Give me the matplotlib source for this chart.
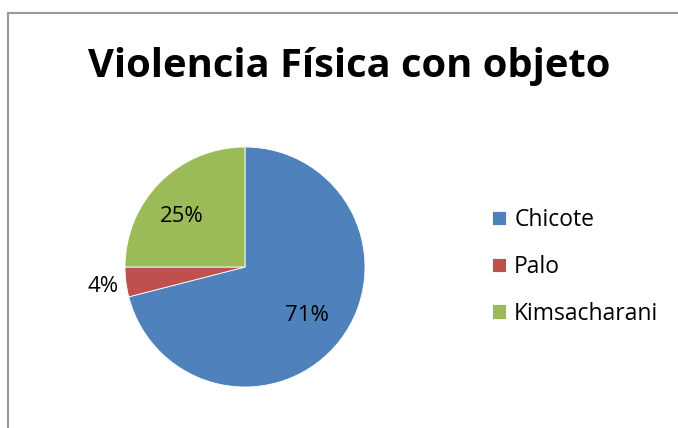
import matplotlib.pyplot as plt
import numpy as np
from matplotlib.lines import Line2D

# data
categories = ["Chicote", "Palo", "Kimsacharani"]
values = [71, 4, 25]
pct_labels = ["71%", "4%", "25%"]
colors = ["#4F81BD", "#C0504D", "#9BBB59"]

W, H = 678, 428
fig = plt.figure(figsize=(W / 100, H / 100), dpi=100)
fig.patch.set_facecolor("white")

# chart border (only top and left visible in the crop)
fig.add_artist(Line2D([8 / W, 8 / W], [0, 1 - 13 / H], color="#9a9a9a", lw=1.5))
fig.add_artist(Line2D([8 / W, 1], [1 - 13 / H, 1 - 13 / H], color="#9a9a9a", lw=1.5))

cx, cy, r = 245, 267, 120
ax = fig.add_axes([(cx - r) / W, (H - cy - r) / H, 2 * r / W, 2 * r / H])
wedges, _ = ax.pie(values, colors=colors, startangle=90, counterclock=False,
                   wedgeprops=dict(edgecolor="white", linewidth=0.6))
ax.set_xlim(-1, 1)
ax.set_ylim(-1, 1)
ax.set_aspect("equal")
ax.axis("off")

# data label placement (radius fraction, angle in degrees)
label_pos = [(0.66, -38), (1.195, 188), (0.675, 141)]
for txt, (d, a) in zip(pct_labels, label_pos):
    t = np.deg2rad(a)
    ax.text(d * np.cos(t), d * np.sin(t), txt, ha="center", va="center",
            fontsize=16, family="Open Sans", clip_on=False)

fig.text(349 / W, 1 - 66 / H, "Violencia Física con objeto", ha="center", va="center",
         fontsize=28.7, fontweight="bold", family="Open Sans")

leg = fig.legend(wedges, categories, loc="center left", bbox_to_anchor=(492 / W, 1 - 267 / H),
                 frameon=False, prop={"family": "Open Sans", "size": 16.5},
                 borderpad=0, borderaxespad=0, handlelength=0.62, handleheight=0.62,
                 handletextpad=0.35, labelspacing=1.0)

fig.savefig("out.png", dpi=100)
